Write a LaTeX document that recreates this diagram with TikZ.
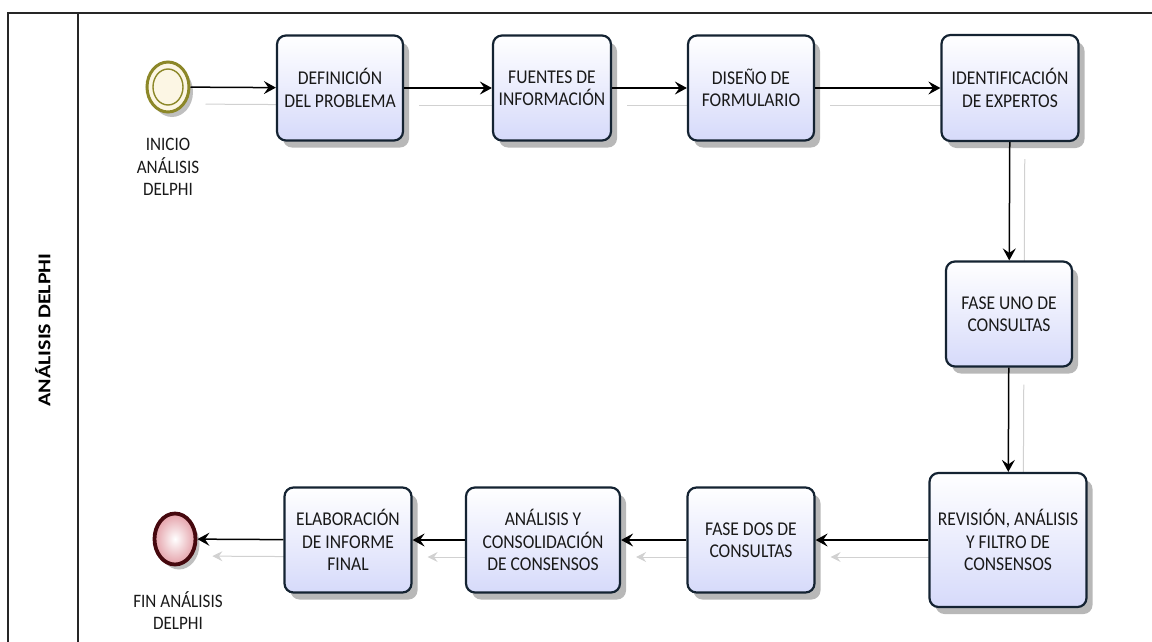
\documentclass[tikz,border=0pt]{standalone}
\usepackage{fontspec}
\setmainfont{Carlito}
\newfontfamily\narrowfont{Carlito}[FakeStretch=0.9]
\newfontfamily\widefont{Carlito}[FakeStretch=1.22]
\usetikzlibrary{arrows.meta,shadows,backgrounds,shapes.geometric}
\definecolor{boxline}{RGB}{20,35,50}
\definecolor{boxfill}{RGB}{214,218,250}
\definecolor{oliveline}{RGB}{140,135,40}
\definecolor{creamfill}{RGB}{252,246,228}
\definecolor{maroonline}{RGB}{70,8,14}
\definecolor{pinkfill}{RGB}{228,160,168}
\definecolor{textcol}{RGB}{25,25,25}
\tikzset{
  taskbox/.style={draw=boxline, line width=2.2pt, rounded corners=9pt,
    top color=white, bottom color=boxfill, align=center, text=textcol,
    font=\narrowfont\fontsize{19.5}{22.5}\selectfont, inner sep=2pt,
    drop shadow={shadow xshift=6pt, shadow yshift=-7pt, opacity=0.28, fill=black}},
  flowline/.style={line width=1.5pt, draw=black, -{Stealth[length=12pt,width=13pt,inset=4.5pt]}},
  shadowline/.style={line width=1pt, draw=black!18, -{Stealth[length=10pt,width=10pt,inset=3.5pt,fill=black!18]},
    transform canvas={xshift=15pt,yshift=-17pt}},
  evlabel/.style={align=center, text=textcol, font=\narrowfont\fontsize{19}{22.5}\selectfont},
  evshadow/.style={drop shadow={shadow xshift=4pt, shadow yshift=-5pt, opacity=0.25, fill=black}}
}
\begin{document}
\begin{tikzpicture}[x=1pt,y=-1pt]
\useasboundingbox (0,0) rectangle (1152,641);
% pool frame
\draw[line width=1.2pt, black!85] (8,660) -- (8,13) -- (1160,13);
\draw[line width=1.2pt, black!85] (78,13) -- (78,660);
\node[rotate=90, font=\widefont\bfseries\fontsize{18}{20}\selectfont] (pool) at (43,330) {ANÁLISIS DELPHI};

% events
\node[ellipse, draw=oliveline, line width=3pt, fill=creamfill, minimum width=42pt, minimum height=50pt, inner sep=0pt,
  evshadow] (start) at (168,87) {};
\draw[oliveline, line width=1.4pt] (start.center) ellipse (15 and 18);
\node[evlabel, anchor=north] (startlbl) at (168,135) {INICIO\\ANÁLISIS\\DELPHI};

\node[ellipse, draw=maroonline, line width=3.8pt, inner sep=0pt, minimum width=41pt, minimum height=51pt,
  inner color=white, outer color=pinkfill, evshadow] (end) at (175,539) {};
\node[evlabel, anchor=north] (endlbl) at (178,588) {FIN ANÁLISIS\\DELPHI};

% tasks
\node[taskbox, minimum width=126pt, minimum height=105pt] (t1) at (340,88) {DEFINICIÓN\\DEL PROBLEMA};
\node[taskbox, minimum width=118pt, minimum height=105pt] (t2) at (552,88) {FUENTES DE\\INFORMACIÓN};
\node[taskbox, minimum width=126pt, minimum height=105pt] (t3) at (751,88) {DISEÑO DE\\FORMULARIO};
\node[taskbox, minimum width=137pt, minimum height=106pt] (t4) at (1010,88) {IDENTIFICACIÓN\\DE EXPERTOS};
\node[taskbox, minimum width=126pt, minimum height=105pt] (t5) at (1009,314) {FASE UNO DE\\CONSULTAS};
\node[taskbox, minimum width=157pt, minimum height=134pt] (t6) at (1008,540) {REVISIÓN, ANÁLISIS\\Y FILTRO DE\\CONSENSOS};
\node[taskbox, minimum width=127pt, minimum height=105pt] (t7) at (751,540) {FASE DOS DE\\CONSULTAS};
\node[taskbox, minimum width=154pt, minimum height=105pt] (t8) at (543,540) {ANÁLISIS Y\\CONSOLIDACIÓN\\DE CONSENSOS};
\node[taskbox, minimum width=127pt, minimum height=105pt] (t9) at (348,540) {ELABORACIÓN\\DE INFORME\\FINAL};

% connector shadows
\begin{scope}[on background layer]
\draw[shadowline] (start) -- (t1);
\draw[shadowline] (t1) -- (t2);
\draw[shadowline] (t2) -- (t3);
\draw[shadowline] (t3) -- (t4);
\draw[shadowline] (t4) -- (t5);
\draw[shadowline] (t5) -- (t6);
\draw[shadowline] (t6) -- (t7);
\draw[shadowline] (t7) -- (t8);
\draw[shadowline] (t8) -- (t9);
\draw[shadowline] (t9) -- (end);
\end{scope}

% connectors
\draw[flowline] (start) -- (t1);
\draw[flowline] (t1) -- (t2);
\draw[flowline] (t2) -- (t3);
\draw[flowline] (t3) -- (t4);
\draw[flowline] (t4) -- (t5);
\draw[flowline] (t5) -- (t6);
\draw[flowline] (t6) -- (t7);
\draw[flowline] (t7) -- (t8);
\draw[flowline] (t8) -- (t9);
\draw[flowline] (t9) -- (end);
\end{tikzpicture}
\end{document}
